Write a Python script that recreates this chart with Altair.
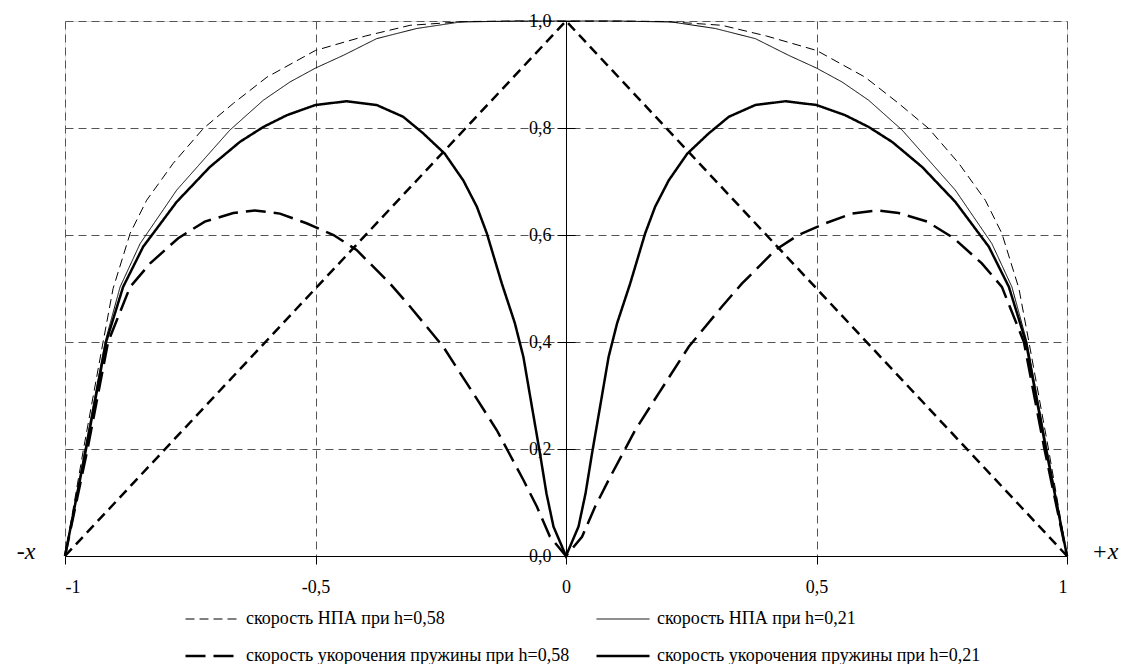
import altair as alt
import pandas as pd

FONT = "Liberation Serif"

names = [
    "скорость НПА при h=0,58",
    "скорость укорочения пружины при h=0,58",
    "скорость НПА при h=0,21",
    "скорость укорочения пружины при h=0,21",
]
dashes = [[9, 5], [20, 8], [1, 0], [1, 0]]
widths = [1, 2.5, 1, 2.5]

npa058_x = [-1, -0.963, -0.924, -0.904, -0.87, -0.837, -0.784, -0.724, -0.664, -0.597, -0.5, -0.4, -0.311, -0.2, -0.1, 0,
            0.1, 0.2, 0.311, 0.4, 0.5, 0.597, 0.664, 0.724, 0.784, 0.837, 0.87, 0.904, 0.924, 0.963, 1]
npa058_y = [0, 0.2, 0.4, 0.5, 0.603, 0.665, 0.734, 0.799, 0.846, 0.895, 0.945, 0.972, 0.992, 0.999, 1.0, 1.0,
            1.0, 0.999, 0.992, 0.972, 0.945, 0.895, 0.846, 0.799, 0.734, 0.665, 0.603, 0.5, 0.4, 0.2, 0]

npa021_x = [-1, -0.96, -0.92, -0.89, -0.85, -0.777, -0.671, -0.604, -0.551, -0.5, -0.444, -0.378, -0.298, -0.212, -0.1, 0,
            0.1, 0.212, 0.298, 0.378, 0.444, 0.5, 0.551, 0.604, 0.671, 0.777, 0.85, 0.89, 0.92, 0.96, 1]
npa021_y = [0, 0.2, 0.4, 0.503, 0.584, 0.684, 0.796, 0.852, 0.886, 0.912, 0.936, 0.967, 0.986, 0.998, 1.0, 1.0,
            1.0, 0.998, 0.986, 0.967, 0.936, 0.912, 0.886, 0.852, 0.796, 0.684, 0.584, 0.503, 0.4, 0.2, 0]

spr058_x = [-1, -0.955, -0.914, -0.87, -0.83, -0.774, -0.721, -0.664, -0.621, -0.571, -0.518, -0.464, -0.418, -0.351,
            -0.311, -0.245, -0.185, -0.138, -0.085, -0.058, -0.032, 0,
            0.032, 0.058, 0.085, 0.138, 0.185, 0.245, 0.311, 0.351, 0.418, 0.464, 0.518, 0.571, 0.621, 0.664,
            0.721, 0.774, 0.83, 0.87, 0.914, 0.955, 1]
spr058_y = [0, 0.2, 0.4, 0.503, 0.547, 0.594, 0.625, 0.641, 0.646, 0.640, 0.622, 0.600, 0.572, 0.509,
            0.466, 0.391, 0.304, 0.235, 0.142, 0.092, 0.036, 0,
            0.036, 0.092, 0.142, 0.235, 0.304, 0.391, 0.466, 0.509, 0.572, 0.600, 0.622, 0.640, 0.646, 0.641,
            0.625, 0.594, 0.547, 0.503, 0.4, 0.2, 0]

spr021_x = [-1, -0.958, -0.918, -0.884, -0.844, -0.777, -0.711, -0.651, -0.604, -0.557, -0.5, -0.438, -0.378, -0.325,
            -0.285, -0.242, -0.205, -0.178, -0.158, -0.128, -0.102, -0.085, -0.068, -0.052, -0.039, -0.025, 0,
            0.025, 0.039, 0.052, 0.068, 0.085, 0.102, 0.128, 0.158, 0.178, 0.205, 0.242, 0.285,
            0.325, 0.378, 0.438, 0.5, 0.557, 0.604, 0.651, 0.711, 0.777, 0.844, 0.884, 0.918, 0.958, 1]
spr021_y = [0, 0.2, 0.4, 0.503, 0.578, 0.662, 0.727, 0.774, 0.802, 0.824, 0.843, 0.850, 0.843, 0.821,
            0.790, 0.752, 0.702, 0.653, 0.603, 0.509, 0.435, 0.372, 0.279, 0.192, 0.117, 0.055, 0,
            0.055, 0.117, 0.192, 0.279, 0.372, 0.435, 0.509, 0.603, 0.653, 0.702, 0.752, 0.790,
            0.821, 0.843, 0.850, 0.843, 0.824, 0.802, 0.774, 0.727, 0.662, 0.578, 0.503, 0.4, 0.2, 0]

tri_x = [-1, 0, 1]
tri_y = [0, 1, 0]

x_ticks = [-1, -0.5, 0, 0.5, 1]
y_ticks = [0, 0.2, 0.4, 0.6, 0.8, 1.0]

side_x = [-1, 1]
side_y = [0, 0]
side_text = ["-x", "+x"]

# same order as `names`
series_data = [
    (npa058_x, npa058_y),
    (spr058_x, spr058_y),
    (npa021_x, npa021_y),
    (spr021_x, spr021_y),
]

rows = []
for name, (xs, ys) in zip(names, series_data):
    for i, (a, b) in enumerate(zip(xs, ys)):
        rows.append({"series": name, "x": a, "y": b, "i": i})
df = pd.DataFrame(rows)
tri = pd.DataFrame({"x": tri_x, "y": tri_y, "i": list(range(len(tri_x)))})
side_left = pd.DataFrame({"x": side_x[:1], "y": side_y[:1], "t": side_text[:1]})
side_right = pd.DataFrame({"x": side_x[1:], "y": side_y[1:], "t": side_text[1:]})

xscale = alt.Scale(domain=[-1, 1], nice=False, zero=False)
yscale = alt.Scale(domain=[0, 1], nice=False)

x_axis = alt.Axis(
    values=x_ticks, title="", grid=True, gridDash=[8, 5], gridColor="#555555", gridWidth=1,
    domainColor="black", domainWidth=1, tickColor="black", tickSize=8,
    labelExpr="replace(toString(datum.value), '.', ',')",
    labelPadding=14, labelFont=FONT, labelFontSize=18, labelColor="black",
)

y_axis_left = alt.Axis(
    values=y_ticks, title="", orient="left", offset=-501,
    grid=True, gridDash=[8, 5], gridColor="#555555", gridWidth=1,
    domainColor="black", domainWidth=1, tickColor="black", tickSize=9,
    labelExpr="replace(format(datum.value, '.1f'), '.', ',')",
    labelPadding=6, labelFont=FONT, labelFontSize=18, labelColor="black",
)

y_axis_right = alt.Axis(
    values=y_ticks, title="", orient="right", offset=-501,
    grid=False, domain=False, labels=False, tickColor="black", tickSize=9,
)

legend = alt.Legend(
    title=None, orient="none", legendX=119, legendY=571, columns=2,
    symbolType="stroke", symbolSize=2809, symbolStrokeColor="black",
    labelFont=FONT, labelFontSize=18, labelColor="black", labelLimit=0,
    labelOffset=6, rowPadding=0, columnPadding=21,
)

lines = alt.Chart(df).mark_line(color="black").encode(
    x=alt.X("x:Q", scale=xscale, axis=x_axis),
    y=alt.Y("y:Q", scale=yscale, axis=y_axis_left),
    strokeDash=alt.StrokeDash("series:O", sort=names,
                              scale=alt.Scale(type="ordinal", domain=names, range=dashes),
                              legend=legend),
    strokeWidth=alt.StrokeWidth("series:O", sort=names,
                                scale=alt.Scale(type="ordinal", domain=names, range=widths),
                                legend=legend),
    order="i:Q",
)

triangle = alt.Chart(tri).mark_line(color="black", strokeWidth=2.5, strokeDash=[10, 6]).encode(
    x=alt.X("x:Q", scale=xscale, axis=x_axis),
    y=alt.Y("y:Q", scale=yscale, axis=y_axis_right),
    order="i:Q",
)

labels_left = alt.Chart(side_left).mark_text(
    font=FONT, fontSize=24, fontStyle="italic", color="black", baseline="middle", align="center", dx=-39, dy=-4,
).encode(
    x=alt.X("x:Q", scale=xscale, axis=x_axis),
    y=alt.Y("y:Q", scale=yscale, axis=None),
    text="t:N",
)
labels_right = alt.Chart(side_right).mark_text(
    font=FONT, fontSize=24, fontStyle="italic", color="black", baseline="middle", align="center", dx=38, dy=-4,
).encode(
    x=alt.X("x:Q", scale=xscale, axis=x_axis),
    y=alt.Y("y:Q", scale=yscale, axis=None),
    text="t:N",
)

chart = alt.layer(lines, triangle, labels_left, labels_right).resolve_axis(y="independent").properties(
    width=1002, height=535,
    autosize=alt.AutoSizeParams(type="none"),
    padding={"left": 65, "top": 21, "right": 59, "bottom": 108},
    background="white",
).configure_view(strokeWidth=0).configure(font=FONT).configure_axis(
    labelFont=FONT
).configure_legend(labelFont=FONT)

chart.save("out.html", embed_options={"renderer": "svg", "actions": False})
